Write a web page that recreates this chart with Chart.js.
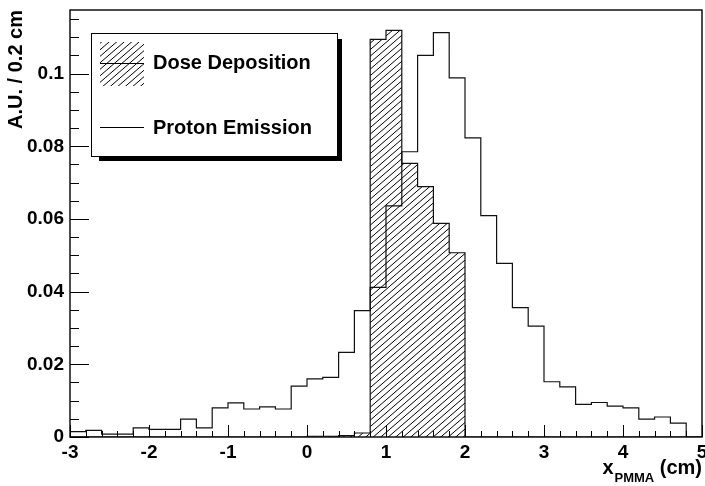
<!DOCTYPE html>
<html lang="en">

<head>
  <meta charset="UTF-8">
  <title>Dose Deposition vs Proton Emission</title>
  <script src="https://cdn.jsdelivr.net/npm/chart.js@4.4.0/dist/chart.umd.min.js"></script>
  <style>
    html, body { margin: 0; padding: 0; background: #fff; }
    #wrap { width: 705px; height: 486px; }
  </style>
</head>

<body>
  <div id="wrap">
    <canvas id="histChart" width="705" height="486"></canvas>
  </div>

  <script>
    // bin lower edges, 0.2 cm wide
    const binLow = [-3.0, -2.8, -2.6, -2.4, -2.2, -2.0, -1.8, -1.6, -1.4, -1.2,
                    -1.0, -0.8, -0.6, -0.4, -0.2, 0.0, 0.2, 0.4, 0.6, 0.8,
                    1.0, 1.2, 1.4, 1.6, 1.8, 2.0, 2.2, 2.4, 2.6, 2.8,
                    3.0, 3.2, 3.4, 3.6, 3.8, 4.0, 4.2, 4.4, 4.6, 4.8];
    const binHigh = 5.0;

    const doseDeposition = [0, 0, 0, 0, 0, 0, 0, 0, 0, 0,
                            0, 0, 0, 0, 0, 0.0002, 0.0002, 0.0004, 0.0011, 0.1094,
                            0.1119, 0.0753, 0.0689, 0.0588, 0.0507, 0, 0, 0, 0, 0,
                            0, 0, 0, 0, 0, 0, 0, 0, 0, 0];

    const protonEmission = [0.0015, 0.0018, 0.0008, 0.0008, 0.0025, 0.0021, 0.0021, 0.0049, 0.0025, 0.0080,
                            0.0094, 0.0077, 0.0083, 0.0077, 0.0140, 0.0160, 0.0164, 0.0233, 0.0348, 0.0412,
                            0.0636, 0.0785, 0.1050, 0.1113, 0.0988, 0.0823, 0.0609, 0.0478, 0.0356, 0.0305,
                            0.0152, 0.0138, 0.0090, 0.0095, 0.0085, 0.0080, 0.0049, 0.0055, 0.0038, 0];

    const legendLabels = ['Dose Deposition', 'Proton Emission'];
    const yTitle = 'A.U. / 0.2 cm';

    const FONT = "'Liberation Sans', Arial, Helvetica, sans-serif";

    // histogram -> step points (lower edges + closing edge)
    function steps(values) {
      const pts = binLow.map((x, i) => ({ x: x, y: values[i] }));
      pts.push({ x: binHigh, y: values[values.length - 1] });
      return pts;
    }

    // ROOT style 3004-ish hatch
    function makeHatch() {
      const c = document.createElement('canvas');
      c.width = 15;
      c.height = 13;
      const g = c.getContext('2d');
      g.strokeStyle = '#000';
      g.lineWidth = 1;
      g.beginPath();
      [-7.5, 0, 7.5].forEach(off => {
        g.moveTo(off - 1.5, 13 + 1.3);
        g.lineTo(off + 15 + 1.5, -1.3);
      });
      g.stroke();
      return g.createPattern(c, 'repeat');
    }

    const hatch = makeHatch();

    const rootDecor = {
      id: 'rootDecor',
      afterDraw(chart) {
        const { ctx, chartArea: a, scales: { x, y } } = chart;
        ctx.save();

        // frame
        ctx.strokeStyle = '#000';
        ctx.lineWidth = 1.4;
        ctx.strokeRect(a.left, a.top, a.right - a.left, a.bottom - a.top);

        // inward ticks, minor + major
        ctx.lineWidth = 1;
        ctx.beginPath();
        for (let i = 0; i <= 40; i++) {
          const px = Math.round(x.getPixelForValue(x.min + i * 0.2)) + 0.5;
          const len = i % 5 === 0 ? 12 : 6;
          ctx.moveTo(px, a.bottom);
          ctx.lineTo(px, a.bottom - len);
        }
        for (let i = 0; i * 0.005 <= y.max; i++) {
          const py = Math.round(y.getPixelForValue(i * 0.005)) + 0.5;
          const len = i % 4 === 0 ? 19 : 9;
          ctx.moveTo(a.left, py);
          ctx.lineTo(a.left + len, py);
        }
        ctx.stroke();

        // legend box with shadow
        const bx = a.left + 21, by = a.top + 23, bw = 246, bh = 123;
        ctx.fillStyle = '#000';
        ctx.fillRect(bx + 8, by + bh, bw - 3, 5);
        ctx.fillRect(bx + bw, by + 6, 5, bh - 1);
        ctx.fillStyle = '#fff';
        ctx.fillRect(bx, by, bw, bh);
        ctx.strokeStyle = '#000';
        ctx.lineWidth = 1;
        ctx.strokeRect(bx + 0.5, by + 0.5, bw, bh);

        // dose sample
        ctx.fillStyle = hatch;
        ctx.fillRect(bx + 9, by + 9, 44, 44);
        ctx.beginPath();
        ctx.moveTo(bx + 9, by + 30.5);
        ctx.lineTo(bx + 53, by + 30.5);
        ctx.moveTo(bx + 9, by + 94.5);
        ctx.lineTo(bx + 53, by + 94.5);
        ctx.stroke();

        ctx.fillStyle = '#000';
        ctx.font = 'bold 20px ' + FONT;
        ctx.textBaseline = 'middle';
        ctx.textAlign = 'left';
        ctx.fillText(legendLabels[0], bx + 62, by + 30);
        ctx.fillText(legendLabels[1], bx + 62, by + 95);

        // x title with subscript
        const big = 'bold 20px ' + FONT, small = 'bold 13px ' + FONT;
        ctx.textBaseline = 'alphabetic';
        ctx.font = big;
        const wX = ctx.measureText('x').width;
        const wC = ctx.measureText(' (cm)').width;
        ctx.font = small;
        const wS = ctx.measureText('PMMA').width;
        let tx = a.right - (wX + 1 + wS + wC);
        const base = a.bottom + 37;
        ctx.font = big;
        ctx.fillText('x', tx, base);
        tx += wX + 1;
        ctx.font = small;
        ctx.fillText('PMMA', tx, base + 8);
        tx += wS;
        ctx.font = big;
        ctx.fillText(' (cm)', tx, base);

        ctx.restore();
      }
    };

    const ctx = document.getElementById('histChart').getContext('2d');

    new Chart(ctx, {
      type: 'line',
      data: {
        datasets: [
          {
            label: legendLabels[0],
            data: steps(doseDeposition),
            stepped: true,
            fill: 'origin',
            backgroundColor: hatch,
            borderColor: '#111',
            borderWidth: 1.2,
            pointRadius: 0
          },
          {
            label: legendLabels[1],
            data: steps(protonEmission),
            stepped: true,
            fill: false,
            borderColor: '#111',
            borderWidth: 1.2,
            pointRadius: 0
          }
        ]
      },
      options: {
        responsive: false,
        animation: false,
        layout: { padding: { top: 10, right: 3, left: 0, bottom: 0 } },
        plugins: {
          legend: { display: false },
          tooltip: { enabled: false }
        },
        scales: {
          x: {
            type: 'linear',
            min: -3,
            max: 5,
            grid: { display: false, drawTicks: false },
            border: { display: false },
            ticks: {
              stepSize: 1,
              autoSkip: false,
              maxRotation: 0,
              padding: 4,
              color: '#000',
              font: { family: FONT, size: 19, weight: 'bold' },
              callback: v => String(v)
            },
            afterFit: s => { s.height = 49; s.paddingLeft = 0; s.paddingRight = 0; }
          },
          y: {
            min: 0,
            max: 0.1175,
            grid: { display: false, drawTicks: false },
            border: { display: false },
            ticks: {
              stepSize: 0.02,
              includeBounds: false,
              padding: 6,
              color: '#000',
              font: { family: FONT, size: 19, weight: 'bold' },
              callback: v => v === 0 ? '0' : String(+v.toFixed(2))
            },
            title: {
              display: true,
              text: yTitle,
              align: 'end',
              color: '#000',
              padding: { top: 4, bottom: 0 },
              font: { family: FONT, size: 20, weight: 'bold' }
            },
            afterFit: s => { s.width = 70; s.paddingTop = 0; s.paddingBottom = 0; }
          }
        }
      },
      plugins: [rootDecor]
    });
  </script>
</body>

</html>
